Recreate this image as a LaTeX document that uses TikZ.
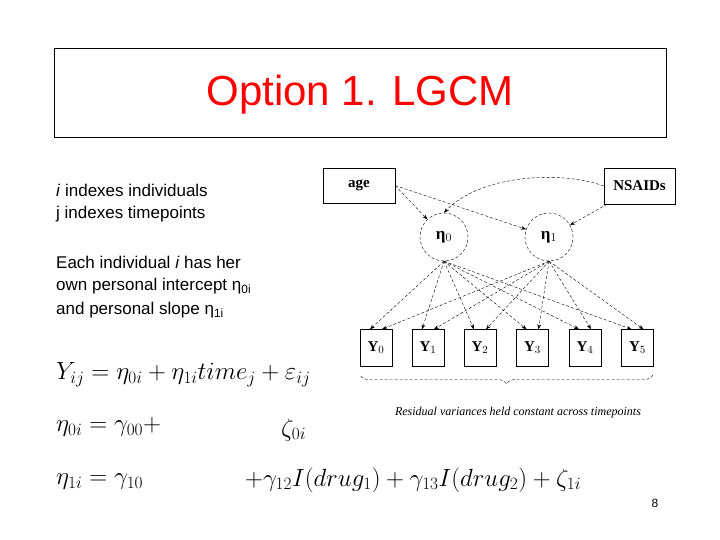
\documentclass[tikz,border=0pt]{standalone}
\usepackage{fontspec}
\setmainfont{Liberation Sans}
\newfontfamily\serifsc{Liberation Serif}
\usetikzlibrary{arrows.meta,decorations.pathreplacing}
\begin{document}
\begin{tikzpicture}[x=1pt,y=-1pt,
  txt/.style={anchor=west,inner sep=0pt,font=\fontsize{17}{17}\selectfont},
  eq/.style={anchor=west,inner sep=0pt,font=\fontsize{25}{25}\selectfont},
  var/.style={draw,thin,minimum width=32pt,minimum height=37pt,inner sep=0pt,font=\serifsc\bfseries\fontsize{15}{15}\selectfont},
  lat/.style={draw,circle,densely dashed,thin,minimum size=48pt,inner sep=0pt,font=\serifsc\bfseries\fontsize{17}{17}\selectfont},
  path/.style={densely dashed,thin,-{Stealth[length=5pt]}}]
\useasboundingbox (0,0) rectangle (720,540);
\fill[white] (0,0) rectangle (720,540);
\node[draw,minimum width=612pt,minimum height=89pt,inner sep=0pt] (tb) at (360,92.5) {};
\node[text=red,font=\fontsize{42}{42}\selectfont] (title) at (360,95) {Option 1. LGCM};
\node[txt] (t1) at (56,190) {\textit{i} indexes individuals};
\node[txt] (t2) at (56,214) {j indexes timepoints};
\node[txt] (t3) at (56,262) {Each individual \textit{i} has her};
\node[txt] (t4) at (56,286) {own personal intercept η\textsubscript{0i}};
\node[txt] (t5) at (56,310) {and personal slope η\textsubscript{1i}};
% diagram
\node[draw,minimum width=72pt,minimum height=35pt,inner sep=0pt,font=\serifsc\bfseries\fontsize{15}{15}\selectfont] (age) at (359,185.5) {age};
\node[draw,minimum width=71pt,minimum height=36pt,inner sep=0pt,font=\serifsc\bfseries\fontsize{15}{15}\selectfont] (ns) at (639.5,186) {NSAIDs};
\node[lat] (e0) at (444,237) {η$_0$};
\node[lat] (e1) at (549,237) {η$_1$};
\foreach \i/\x in {0/376,1/428,2/480,3/532.5,4/585,5/637.5}{
  \node[var] (y\i) at (\x,348) {Y$_\i$};
}
\draw[path] (age.east) -- (e0);
\draw[path] (age.east) -- (e1);
\draw[path] (ns) -- (e1);
\draw[path] (ns.west) .. controls (560,170) and (480,175) .. (e0.north);
\foreach \i in {0,...,5}{
  \draw[path] (e0.south) -- ([xshift=-6pt]y\i.north);
  \draw[path] (e1.south) -- ([xshift=6pt]y\i.north);
}
\coordinate (bl) at (360,375);
\coordinate (br) at (653,375);
\draw[densely dashed,thin,decorate,decoration={brace,amplitude=9pt}] (br) -- (bl);
\node[font=\serifsc\itshape\fontsize{12}{12}\selectfont] (cap) at (518,413) {Residual variances held constant across timepoints};
% equations
\node[eq] (q1) at (56,375) {$Y_{ij}=\eta_{0i}+\eta_{1i}time_j+\varepsilon_{ij}$};
\node[eq] (q2) at (56,427) {$\eta_{0i}=\gamma_{00}+$};
\node[eq] (q2b) at (281,430) {$\zeta_{0i}$};
\node[eq] (q3) at (56,482) {$\eta_{1i}=\gamma_{10}$};
\node[eq] (q3b) at (245,480) {$+\gamma_{12}I(drug_1)+\gamma_{13}I(drug_2)+\zeta_{1i}$};
\node[font=\fontsize{12}{12}\selectfont] (pg) at (655,503) {8};
\end{tikzpicture}
\end{document}
